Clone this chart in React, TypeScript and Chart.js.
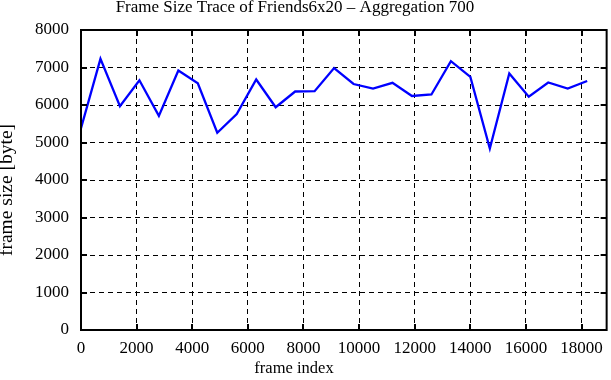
import React, { useEffect, useRef } from "react";
import { Chart, registerables } from "chart.js";

Chart.register(...registerables);

const frameIndex = [
  0, 700, 1400, 2100, 2800, 3500, 4200, 4900, 5600, 6300, 7000, 7700, 8400, 9100,
  9800, 10500, 11200, 11900, 12600, 13300, 14000, 14700, 15400, 16100, 16800, 17500, 18200,
];
const frameSize = [
  5380, 7230, 5970, 6660, 5710, 6920, 6580, 5260, 5760, 6680, 5940, 6360, 6370, 6985,
  6560, 6440, 6590, 6240, 6280, 7170, 6750, 4840, 6840, 6220, 6600, 6440, 6640,
];

const xTicks = [0, 2000, 4000, 6000, 8000, 10000, 12000, 14000, 16000, 18000];
const yTicks = [0, 1000, 2000, 3000, 4000, 5000, 6000, 7000, 8000];

const chartTitle = "Frame Size Trace of Friends6x20 \u2013 Aggregation 700";
const xTitle = "frame index";
const yTitle = "frame size [byte]";
const xMin = 0;
const xMax = 18900;
const yMin = 0;
const yMax = 8000;

const FONT = "'Liberation Serif', 'DejaVu Serif', serif";

const framePlugin = {
  id: "gnuplotFrame",
  afterDraw(chart: any) {
    const { ctx, chartArea } = chart;
    const { left, right, top, bottom } = chartArea;
    const xs = chart.scales.x;
    const ys = chart.scales.y;
    ctx.save();
    ctx.setLineDash([]);
    ctx.strokeStyle = "#000";
    ctx.lineWidth = 2;
    const tl = 6;
    ctx.beginPath();
    xs.ticks.forEach((t: any) => {
      const px = Math.round(xs.getPixelForValue(t.value));
      ctx.moveTo(px, bottom);
      ctx.lineTo(px, bottom - tl);
      ctx.moveTo(px, top);
      ctx.lineTo(px, top + tl);
    });
    ys.ticks.forEach((t: any) => {
      const py = Math.round(ys.getPixelForValue(t.value));
      ctx.moveTo(left, py);
      ctx.lineTo(left + tl, py);
      ctx.moveTo(right, py);
      ctx.lineTo(right - tl, py);
    });
    ctx.stroke();
    ctx.strokeRect(left, top, right - left, bottom - top);
    ctx.fillStyle = "#000";
    ctx.textAlign = "center";
    ctx.textBaseline = "middle";
    ctx.font = `17px ${FONT}`;
    ctx.fillText(chartTitle, 295, 8);
    ctx.font = `16.5px ${FONT}`;
    ctx.fillText(xTitle, 294, 369);
    ctx.translate(7, 190);
    ctx.rotate(-Math.PI / 2);
    ctx.font = `19.5px ${FONT}`;
    ctx.fillText(yTitle, 0, 0);
    ctx.restore();
  },
};

export default function App() {
  const ref = useRef<HTMLCanvasElement | null>(null);
  useEffect(() => {
    if (!ref.current) return;
    const chart = new Chart(ref.current, {
      type: "line",
      data: {
        datasets: [
          {
            data: frameIndex.map((x, i) => ({ x, y: frameSize[i] })),
            borderColor: "#0000ff",
            borderWidth: 2.3,
            pointRadius: 0,
            tension: 0,
            fill: false,
          },
        ],
      },
      options: {
        animation: false,
        responsive: false,
        devicePixelRatio: 1,
        layout: { padding: { top: 30, right: 3, left: 0, bottom: 0 } },
        plugins: {
          legend: { display: false },
          title: { display: false },
          tooltip: { enabled: false },
        },
        scales: {
          x: {
            type: "linear",
            min: xMin,
            max: xMax,
            afterBuildTicks: (s: any) => {
              s.ticks = xTicks.map((value) => ({ value }));
            },
            afterFit: (s: any) => {
              s.height = 50;
            },
            ticks: {
              maxRotation: 0,
              autoSkip: false,
              padding: 8,
              color: "#000",
              font: { family: FONT, size: 17 },
              callback: (v: any) => String(v),
            },
            grid: { color: "#000", lineWidth: 1, drawTicks: false },
            border: { display: false, dash: [5, 4] },
          },
          y: {
            type: "linear",
            min: yMin,
            max: yMax,
            afterBuildTicks: (s: any) => {
              s.ticks = yTicks.map((value) => ({ value }));
            },
            afterFit: (s: any) => {
              s.width = 81;
            },
            ticks: {
              autoSkip: false,
              padding: 12,
              color: "#000",
              font: { family: FONT, size: 17 },
              callback: (v: any) => String(v),
            },
            grid: { color: "#000", lineWidth: 1, drawTicks: false },
            border: { display: false, dash: [5, 4] },
          },
        },
      },
      plugins: [framePlugin],
    });
    return () => chart.destroy();
  }, []);
  return (
    <div style={{ position: "absolute", left: 0, top: 0, width: 611, height: 380, background: "#fff" }}>
      <canvas ref={ref} width={611} height={380} />
    </div>
  );
}
